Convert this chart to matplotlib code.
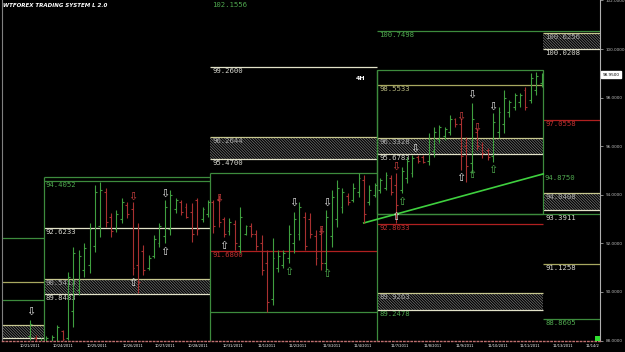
import matplotlib.pyplot as plt
import matplotlib.transforms as mtransforms
from matplotlib.patches import Rectangle

plt.rcParams['hatch.linewidth'] = 0.5

# 4H bars (index 0 = first bar of 10/24/2011)
bar_idx = list(range(-4, 92))
highs = [88.85, 88.23, 88.11, 88.19, 88.23, 88.64, 88.44, 90.82, 91.85, 91.73,
         92.02, 92.84, 94.40, 94.53, 94.28, 93.25, 93.37, 93.87, 93.70, 93.70,
         92.84, 91.93, 91.52, 92.35, 92.84, 93.79, 94.20, 93.87, 93.79, 93.66,
         93.66, 93.87, 93.50, 93.79, 93.79, 93.99, 93.09, 93.05, 92.96, 93.50,
         92.76, 92.84, 92.55, 92.35, 91.73, 92.22, 91.73, 91.73, 92.76, 93.29,
         93.70, 93.29, 93.25, 92.55, 92.67, 93.37, 94.20, 94.61, 94.28, 94.07,
         94.49, 94.90, 94.81, 94.40, 94.49, 94.69, 94.94, 94.81, 94.90, 95.14,
         95.56, 95.64, 95.64, 95.64, 96.54, 96.79, 96.87, 96.79, 97.28, 97.16,
         97.16, 96.38, 97.78, 96.75, 96.17, 95.93, 97.37, 97.61, 98.31, 97.90,
         98.19, 98.19, 98.44, 99.01, 99.05, 99.01]
lows = [88.02, 87.61, 87.53, 87.61, 87.82, 87.82, 87.94, 88.02, 88.56, 89.88,
        90.62, 90.78, 91.65, 92.26, 92.67, 92.26, 92.47, 92.84, 93.05, 90.70,
        89.96, 90.70, 90.91, 91.40, 91.85, 92.02, 92.35, 93.25, 93.17, 93.05,
        92.06, 92.35, 92.88, 93.09, 92.43, 92.67, 92.26, 92.35, 91.73, 91.60,
        92.35, 92.26, 91.73, 90.70, 89.18, 89.47, 90.82, 90.99, 91.19, 91.60,
        92.14, 91.73, 92.22, 91.11, 90.91, 90.91, 91.85, 92.67, 93.25, 93.58,
        93.70, 93.91, 92.84, 93.58, 93.91, 94.07, 94.20, 93.99, 92.84, 94.07,
        94.49, 94.73, 95.31, 95.31, 95.23, 95.56, 96.13, 96.26, 96.46, 96.79,
        95.02, 94.53, 94.90, 95.84, 95.51, 95.43, 95.35, 96.34, 96.54, 97.20,
        97.49, 97.61, 97.49, 97.78, 98.11, 98.44]
opens = [88.20, 88.10, 87.70, 87.80, 87.90, 88.00, 88.40, 88.10, 89.20, 90.10,
         90.90, 91.10, 91.90, 92.70, 94.10, 93.10, 92.60, 93.00, 93.60, 93.40,
         91.10, 91.70, 91.00, 91.50, 92.00, 92.30, 92.60, 93.40, 93.70, 93.50,
         93.30, 93.80, 93.00, 93.20, 93.70, 93.80, 93.00, 92.50, 92.80, 91.90,
         92.40, 92.70, 92.40, 92.00, 91.20, 89.70, 91.00, 91.10, 91.40, 92.00,
         92.40, 93.10, 93.00, 92.30, 92.40, 91.20, 92.30, 93.00, 93.50, 93.95,
         93.80, 94.10, 94.60, 93.70, 94.00, 94.20, 94.30, 94.70, 94.40, 94.20,
         94.70, 94.90, 95.55, 95.55, 95.40, 95.80, 96.30, 96.40, 96.60, 97.10,
         96.90, 96.00, 95.30, 96.60, 96.05, 95.85, 95.60, 96.60, 96.90, 97.40,
         97.60, 97.80, 98.30, 97.90, 98.30, 98.60]
closes = [88.70, 87.80, 88.00, 88.10, 88.15, 88.55, 88.05, 90.60, 91.60, 91.50,
          91.80, 92.60, 94.10, 94.20, 92.90, 92.50, 93.20, 93.70, 93.20, 91.00,
          90.40, 90.90, 91.40, 92.20, 92.70, 93.50, 94.00, 93.80, 93.30, 93.10,
          92.40, 92.60, 93.40, 93.70, 92.70, 92.90, 92.40, 92.90, 92.00, 93.10,
          92.70, 92.40, 91.90, 90.90, 89.60, 91.40, 91.50, 91.60, 92.40, 93.00,
          93.50, 91.90, 92.40, 91.40, 91.20, 93.10, 93.90, 94.30, 94.10, 93.70,
          94.30, 94.70, 93.20, 94.20, 94.40, 94.60, 94.80, 94.10, 93.60, 95.00,
          95.40, 95.50, 95.40, 95.35, 96.30, 96.60, 96.80, 96.70, 97.10, 96.90,
          95.60, 95.20, 97.10, 96.00, 95.70, 95.55, 97.00, 97.40, 98.00, 97.80,
          98.10, 98.10, 97.60, 98.80, 98.90, 98.95]

# week boxes (bar index of each box edge)
week_edges = [-9.26, -1.5, 29.4, 60.4, 91.3, 101.85]

# level lines: price, box from, box to, style
line_price = [92.22, 90.41, 89.67,
              94.73, 94.57, 92.63,
              102.16, 99.26, 94.90, 91.69, 89.18,
              100.74, 98.52, 92.80,
              97.08, 93.21, 91.15, 88.89]
line_from = [0, 0, 0, 1, 1, 1, 2, 2, 2, 2, 2, 3, 3, 3, 4, 3, 4, 4]
line_to = [1, 1, 1, 2, 2, 2, 3, 3, 3, 3, 3, 5, 4, 4, 5, 5, 5, 5]
line_kind = ['g', 'y', 'g', 'g', 'g', 'w', 'g', 'w', 'g', 'r', 'g',
             'g', 'y', 'r', 'r', 'g', 'y', 'g']

# hatched zones: low, high, box from, box to, label inside
zone_lo = [88.11, 89.92, 95.47, 95.68, 89.26, 100.00, 93.37]
zone_hi = [88.64, 90.53, 96.38, 96.34, 89.96, 100.66, 94.07]
zone_from = [0, 1, 2, 3, 3, 4, 4]
zone_to = [1, 2, 3, 4, 4, 5, 5]
zone_top_lbl = ['', '90.5413', '96.2644', '96.3328', '89.9263', '100.6256', '94.0408']

# level labels: text, box, price, style
lbl_text = ['94.4052', '92.6233', '89.8483', '102.1556', '99.2600', '95.4700', '91.6800',
            '100.7498', '98.5533', '95.6783', '92.8033', '89.2478',
            '100.0208', '97.0558', '93.3911', '91.1258', '88.8605']
lbl_box = [1, 1, 1, 2, 2, 2, 2, 3, 3, 3, 3, 3, 4, 4, 4, 4, 4]
lbl_price = [94.57, 92.63, 89.92, 102.0, 99.26, 95.47, 91.69,
             100.74, 98.52, 95.68, 92.80, 89.26,
             100.00, 97.08, 93.21, 91.15, 88.89]
lbl_kind = ['g', 'w', 'w', 'g', 'w', 'w', 'r', 'g', 'y', 'w', 'r', 'g',
            'w', 'r', 'w', 'w', 'g']

# trend line
trend_x = [57.96, 91.3]
trend_y = [92.84, 94.86]

# signal arrows
arrow_x = [-4, 15, 21, 21, 15, 31, 32, 45, 44, 51, 50, 51,
           64, 65, 64, 67.5, 76, 78, 79, 82, 76, 78, 82]
arrow_y = [89.18, 93.91, 94.03, 91.65, 90.37, 93.83, 91.89, 93.66, 90.82, 93.66, 92.51, 90.74,
           95.14, 93.70, 93.08, 95.90, 97.20, 98.11, 96.75, 97.61, 94.69, 94.81, 95.02]
arrow_dir = ['d', 'd', 'd', 'u', 'u', 'd', 'u', 'd', 'u', 'd', 'd', 'u',
             'd', 'u', 'u', 'd', 'd', 'd', 'd', 'd', 'u', 'u', 'u']
arrow_col = ['w', 'r', 'w', 'w', 'w', 'r', 'w', 'w', 'g', 'w', 'r', 'g',
             'r', 'g', 'w', 'w', 'r', 'w', 'r', 'w', 'w', 'g', 'g']

day_pos = [-4, 2, 8.4, 15, 21, 27.2, 33.7, 40, 45.7, 52, 57.8, 64.7,
           70.8, 76.8, 82.9, 88.8, 95, 100.5]
day_labels = ['10/21/2011', '10/24/2011', '10/25/2011', '10/26/2011', '10/27/2011',
              '10/28/2011', '10/31/2011', '11/1/2011', '11/2/2011', '11/3/2011',
              '11/4/2011', '11/7/2011', '11/8/2011', '11/9/2011', '11/10/2011',
              '11/11/2011', '11/13/2011', '11/14/2']
price_ticks = [88, 90, 92, 94, 96, 98, 100, 102]
last_price = 98.95

line_colors = {'g': '#3d8b3d', 'y': '#a8a860', 'w': '#e2e2c8', 'r': '#b02020'}
text_colors = {'g': '#4fa84f', 'y': '#b8b880', 'w': '#d8d8d0', 'r': '#c03030'}
arrow_colors = {'w': '#e0e0e0', 'r': '#d04040', 'g': '#50b050'}

fig = plt.figure(figsize=(6.25, 3.52), dpi=100, facecolor='black')
ax = fig.add_axes([2 / 625, 11 / 352, 598 / 625, 341 / 352])
ax.set_facecolor('black')
ax.set_xlim(week_edges[0], week_edges[-1])
ax.set_ylim(87.98, 102.02)

# hatched zones
for lo, hi, a, b in zip(zone_lo, zone_hi, zone_from, zone_to):
    x0, x1 = week_edges[a], week_edges[b]
    ax.add_patch(Rectangle((x0, lo), x1 - x0, hi - lo, facecolor='black',
                           edgecolor='#7a7a7a', hatch='\\' * 12, lw=0, zorder=1))
    ax.hlines(hi, x0, x1, color='#c8c890', lw=0.9, zorder=2)
    ax.hlines(lo, x0, x1, color='#e2e2c8', lw=0.9, zorder=2)

# level lines
for p, a, b, k in zip(line_price, line_from, line_to, line_kind):
    ax.hlines(p, week_edges[a], week_edges[b], color=line_colors[k], lw=0.9, zorder=2)

# box edges
ax.vlines(week_edges[1], 87.98, 94.73, color=line_colors['g'], lw=0.9, zorder=2)
ax.vlines(week_edges[2], 87.98, 94.90, color=line_colors['g'], lw=0.9, zorder=2)
ax.vlines(week_edges[3], 87.98, 99.14, color=line_colors['g'], lw=0.9, zorder=2)
ax.add_patch(Rectangle((week_edges[3], 93.21), week_edges[4] - week_edges[3], 99.14 - 93.21,
                       fill=False, edgecolor=line_colors['g'], lw=0.9, zorder=2))

# labels
mono = 'DejaVu Sans Mono'
for t, bx, p, k in zip(lbl_text, lbl_box, lbl_price, lbl_kind):
    ax.text(week_edges[bx] + 0.4, p - 0.05, t, va='top', ha='left', fontsize=5.2,
            family=mono, color=text_colors[k], zorder=3)
for t, bx, p in zip(zone_top_lbl, zone_from, zone_hi):
    if t:
        ax.text(week_edges[bx] + 0.4, p - 0.05, t, va='top', ha='left', fontsize=5.2,
                family=mono, color='#a8a8a8', zorder=3)

# trend line
ax.plot(trend_x, trend_y, color='#3fd03f', lw=1.2, zorder=4)
ax.text(trend_x[1] + 0.2, trend_y[1] - 0.05, '94.8750', va='top', ha='left',
        fontsize=5.2, family=mono, color=text_colors['g'], zorder=3)

# OHLC bars
for i, h, l, o, c in zip(bar_idx, highs, lows, opens, closes):
    col = '#3f9f3f' if c >= o else '#a83030'
    ax.vlines(i, l, h, color=col, lw=0.8, zorder=5)
    ax.hlines(o, i - 0.35, i, color=col, lw=0.8, zorder=5)
    ax.hlines(c, i, i + 0.35, color=col, lw=0.8, zorder=5)

# arrows
for x, y, d, k in zip(arrow_x, arrow_y, arrow_dir, arrow_col):
    ax.text(x, y, '\u21e9' if d == 'd' else '\u21e7', ha='center', va='center',
            fontsize=8, family='DejaVu Sans', color=arrow_colors[k], zorder=6)

# axes styling
ax.spines['top'].set_visible(False)
ax.spines['left'].set_color('#808080')
ax.spines['right'].set_color('#b0b0b0')
ax.spines['right'].set_linewidth(0.8)
ax.spines['bottom'].set_color('#c07070')
ax.spines['bottom'].set_linestyle(':')
ax.spines['bottom'].set_linewidth(1.0)

ax.yaxis.tick_right()
ax.set_yticks(price_ticks)
ax.set_yticklabels(['%.4f' % v for v in price_ticks])
ax.tick_params(axis='y', colors='#c0c0c0', labelsize=3, length=2, width=0.5, pad=2)
ax.set_xticks(day_pos)
ax.set_xticklabels(day_labels)
ax.tick_params(axis='x', colors='white', labelsize=2.6, length=0, pad=2.5)

blend = mtransforms.blended_transform_factory(ax.transAxes, ax.transData)
ax.text(1.004, last_price, '%.4f' % last_price, transform=blend, fontsize=3, color='black',
        va='center', ha='left', bbox=dict(facecolor='white', edgecolor='white', pad=0.8))

# small status square at the bottom right corner
ax.add_patch(Rectangle((0.992, 0.0), 0.008, 0.014, transform=ax.transAxes,
                       facecolor='#30e030', edgecolor='none', zorder=7, clip_on=False))

fig.text(3 / 625, 1 - 3 / 352, 'WTFOREX TRADING SYSTEM L 2.0', va='top', ha='left',
         fontsize=4, weight='bold', style='italic', color='white')
ax.text(0.599, 0.771, '4H', transform=ax.transAxes, fontsize=4.5, weight='bold',
        color='white', ha='center', va='center')

fig.savefig('out.png', dpi=100, facecolor='black')
